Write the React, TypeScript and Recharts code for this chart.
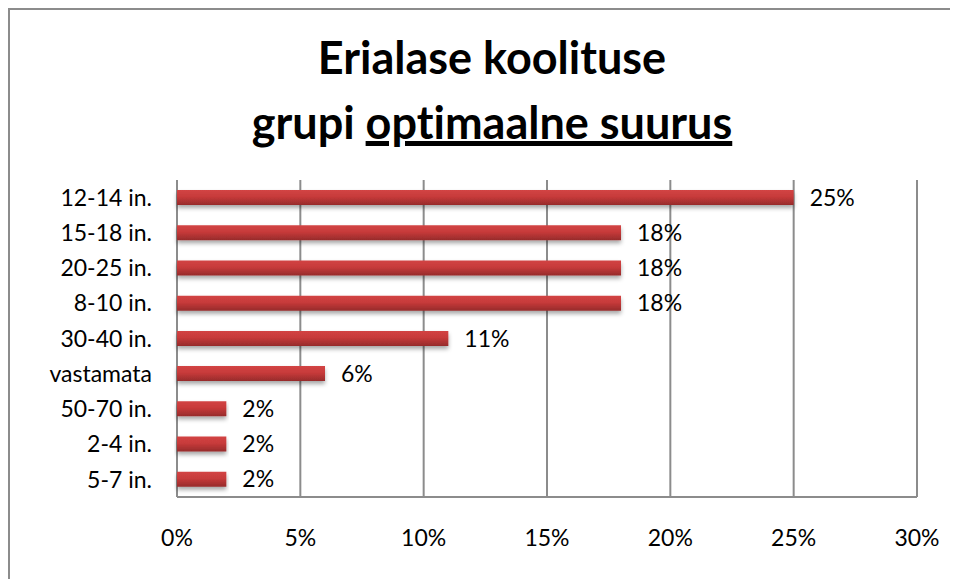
import { BarChart, Bar, XAxis, YAxis, CartesianGrid, LabelList } from "recharts";

const categories = ["12-14 in.", "15-18 in.", "20-25 in.", "8-10 in.", "30-40 in.", "vastamata", "50-70 in.", "2-4 in.", "5-7 in."];
const shares = [25, 18, 18, 18, 11, 6, 2, 2, 2];
const xTicks = [0, 5, 10, 15, 20, 25, 30];

const data = categories.map((name, i) => ({ name, value: shares[i] }));

const FONT = "Lato, 'Open Sans', sans-serif";
const GRAY = "#8c8c8c";

export default function App() {
  return (
    <div style={{ width: 950, height: 571, overflow: "hidden", position: "relative" }}>
      <style>{`html, body { overflow: hidden; }`}</style>
      <div
        style={{
          position: "absolute",
          left: 0,
          top: 0,
          width: 980,
          height: 600,
          borderLeft: `2px solid ${GRAY}`,
          borderTop: `2px solid ${GRAY}`,
          background: "#fff",
          fontFamily: FONT,
        }}
      >
        <div
          style={{
            position: "absolute",
            left: 0,
            width: 964,
            top: 15,
            textAlign: "center",
            fontWeight: 700,
            fontSize: 45,
            lineHeight: "65px",
            color: "#000",
            fontVariantLigatures: "none",
          }}
        >
          <div>Erialase koolituse</div>
          <div>
            grupi <span style={{ textDecoration: "underline", textDecorationThickness: 5, textUnderlineOffset: 2 }}>optimaalne suurus</span>
          </div>
        </div>
        <div style={{ position: "absolute", left: 0, top: 0 }}>
          <BarChart
            width={940}
            height={561}
            data={data}
            layout="vertical"
            margin={{ top: 170, right: 33, bottom: 44, left: 0 }}
            barCategoryGap={0}
          >
            <defs>
              <linearGradient id="barFill" x1="0" y1="0" x2="0" y2="1">
                <stop offset="0%" stopColor="#d24444" />
                <stop offset="45%" stopColor="#c73a3a" />
                <stop offset="100%" stopColor="#962b2b" />
              </linearGradient>
              <filter id="barShadow" x="-5%" y="-50%" width="110%" height="220%">
                <feDropShadow dx="0" dy="3" stdDeviation="2" floodColor="#000" floodOpacity="0.35" />
              </filter>
            </defs>
            <CartesianGrid vertical horizontal={false} stroke={GRAY} strokeWidth={2} />
            <XAxis
              type="number"
              domain={[0, 30]}
              ticks={xTicks}
              tickFormatter={(v) => `${v}%`}
              axisLine={{ stroke: GRAY, strokeWidth: 2 }}
              tickLine={false}
              tickMargin={27}
              height={30}
              tick={{ fill: "#000", fontSize: 23, fontFamily: FONT }}
              interval={0}
            />
            <YAxis
              type="category"
              dataKey="name"
              width={167}
              axisLine={false}
              tickLine={false}
              tickMargin={19}
              tick={{ fill: "#000", fontSize: 23, fontFamily: FONT }}
              interval={0}
            />
            <Bar dataKey="value" fill="url(#barFill)" barSize={15} filter="url(#barShadow)" isAnimationActive={false}>
              <LabelList
                dataKey="value"
                position="right"
                offset={16}
                formatter={(v: number) => `${v}%`}
                style={{ fill: "#000", fontSize: 23, fontFamily: FONT }}
              />
            </Bar>
          </BarChart>
        </div>
      </div>
    </div>
  );
}
